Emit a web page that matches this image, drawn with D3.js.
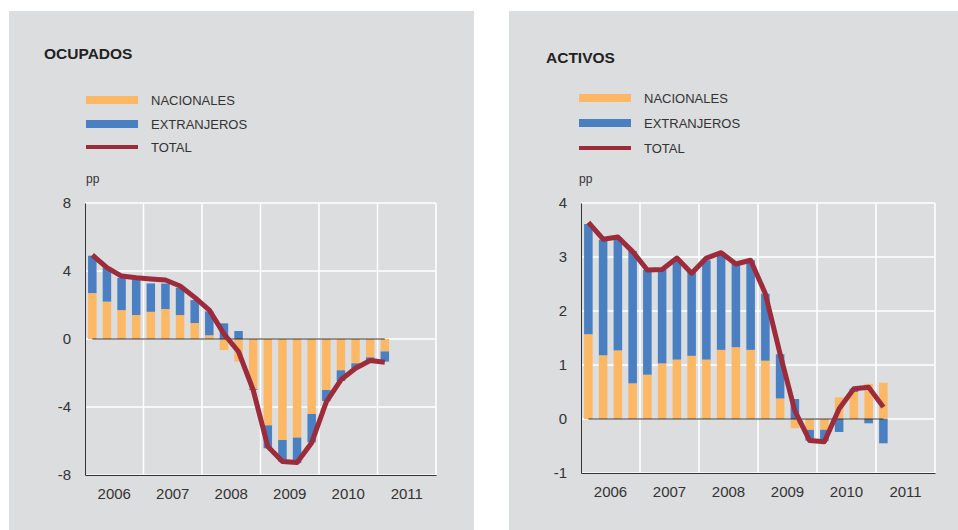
<!DOCTYPE html>
<html>
<head>
<meta charset="utf-8">
<script src="https://cdn.jsdelivr.net/npm/d3@7"></script>
<style>
  body { margin: 0; background: #fff; }
  svg { display: block; font-family: "Liberation Sans", Arial, sans-serif; }
</style>
</head>
<body>
<svg id="chart" width="958" height="530"></svg>
<script>
// Quarterly contributions (pp) - two panels, stacked bars + total line

const years = ['2006', '2007', '2008', '2009', '2010', '2011'];
const quarters = [
  '2006T1', '2006T2', '2006T3', '2006T4',
  '2007T1', '2007T2', '2007T3', '2007T4',
  '2008T1', '2008T2', '2008T3', '2008T4',
  '2009T1', '2009T2', '2009T3', '2009T4',
  '2010T1', '2010T2', '2010T3', '2010T4',
  '2011T1', '2011T2', '2011T3', '2011T4'
];
const seriesNames = ['NACIONALES', 'EXTRANJEROS', 'TOTAL'];

const ocupadosNacionales = [2.7, 2.2, 1.7, 1.41, 1.6, 1.76, 1.41, 0.94, 0.22, -0.65, -1.33, -2.95,
  -5.08, -5.94, -5.8, -4.41, -3.0, -1.84, -1.43, -1.08, -0.73];
const ocupadosExtranjeros = [2.2, 2.0, 1.9, 2.06, 1.67, 1.5, 1.6, 1.35, 1.4, 0.92, 0.47, -0.05,
  -1.35, -1.28, -1.5, -1.67, -0.65, -0.63, -0.3, -0.2, -0.6];
const ocupadosTotal = [4.94, 4.2, 3.7, 3.6, 3.53, 3.47, 3.12, 2.45, 1.7, 0.3, -0.75, -3.0,
  -6.33, -7.2, -7.27, -6.1, -3.7, -2.4, -1.72, -1.27, -1.37];

const activosNacionales = [1.57, 1.18, 1.27, 0.66, 0.82, 1.03, 1.1, 1.17, 1.1, 1.28, 1.33, 1.28,
  1.08, 0.38, -0.17, -0.2, -0.2, 0.4, 0.5, 0.65, 0.67];
const activosExtranjeros = [2.04, 2.14, 2.08, 2.45, 1.94, 1.74, 1.86, 1.56, 1.84, 1.79, 1.54, 1.66,
  1.24, 0.82, 0.37, -0.2, -0.21, -0.24, 0.06, -0.08, -0.45];
const activosTotal = [3.64, 3.33, 3.37, 3.1, 2.76, 2.77, 2.98, 2.7, 2.98, 3.08, 2.87, 2.94,
  2.32, 1.2, 0.15, -0.4, -0.42, 0.19, 0.56, 0.59, 0.22];

const ocupadosTicks = [-8, -4, 0, 4, 8];
const activosTicks = [-1, 0, 1, 2, 3, 4];

const COLORS = { nac: '#fdb865', ext: '#4a7fc1', total: '#9c2b3b', bg: '#dcdddf', text: '#333' };

const svg = d3.select('#chart');

function drawPanel(p) {
  const g = svg.append('g');

  g.append('rect')
    .attr('x', p.bx).attr('y', 11)
    .attr('width', p.bw).attr('height', 530 - 11)
    .attr('fill', COLORS.bg);

  g.append('text')
    .attr('x', p.titleX).attr('y', p.titleY)
    .attr('font-size', 15.5).attr('font-weight', 'bold')
    .attr('fill', '#222')
    .text(p.title);

  // legend
  const leg = g.append('g');
  p.legendY.forEach((ly, i) => {
    if (i < 2) {
      leg.append('rect')
        .attr('x', p.legX).attr('y', ly - 4)
        .attr('width', 52).attr('height', 8)
        .attr('fill', i === 0 ? COLORS.nac : COLORS.ext);
    } else {
      leg.append('line')
        .attr('x1', p.legX).attr('x2', p.legX + 52)
        .attr('y1', ly).attr('y2', ly)
        .attr('stroke', COLORS.total).attr('stroke-width', 4);
    }
    leg.append('text')
      .attr('x', p.legX + 65).attr('y', ly + 4.5)
      .attr('font-size', 13).attr('fill', COLORS.text)
      .text(seriesNames[i]);
  });

  g.append('text')
    .attr('x', p.legX).attr('y', 183)
    .attr('font-size', 12).attr('fill', COLORS.text)
    .text('pp');

  const x = d3.scaleBand().domain(quarters)
    .range([p.left, p.right]).paddingInner(0.42).paddingOuter(0.21);
  const xYear = d3.scaleBand().domain(years).range([p.left, p.right]);
  const y = d3.scaleLinear().domain(p.domain).range([p.bottom, p.top]);

  // grid
  g.append('g').selectAll('line').data(p.ticks)
    .join('line')
    .attr('x1', p.left).attr('x2', p.right)
    .attr('y1', d => y(d)).attr('y2', d => y(d))
    .attr('stroke', '#fff').attr('stroke-width', 1.5);
  g.append('g').selectAll('line').data(years)
    .join('line')
    .attr('x1', d => xYear(d) + xYear.bandwidth()).attr('x2', d => xYear(d) + xYear.bandwidth())
    .attr('y1', p.top).attr('y2', p.bottom)
    .attr('stroke', '#fff').attr('stroke-width', 1.5);

  // bars
  const rows = p.nac.map((v, i) => ({ q: quarters[i], nac: v, ext: p.ext[i] }));
  const stacked = d3.stack().keys(['nac', 'ext']).offset(d3.stackOffsetDiverging)(rows);
  g.append('g').selectAll('g').data(stacked)
    .join('g')
    .attr('fill', d => COLORS[d.key])
    .selectAll('rect').data(d => d)
    .join('rect')
    .attr('x', d => x(d.data.q))
    .attr('width', x.bandwidth())
    .attr('y', d => y(Math.max(d[0], d[1])))
    .attr('height', d => Math.abs(y(d[0]) - y(d[1])));

  // zero line
  const c = q => x(q) + x.bandwidth() / 2;
  g.append('line')
    .attr('x1', c(quarters[0])).attr('x2', c(quarters[p.nac.length - 1]))
    .attr('y1', y(0)).attr('y2', y(0))
    .attr('stroke', '#333').attr('stroke-width', 1);

  // axes
  const yAxis = d3.axisLeft(y).tickValues(p.ticks).tickSize(0).tickPadding(14)
    .tickFormat(d => String(d));
  const ya = g.append('g').attr('transform', `translate(${p.left},0)`).call(yAxis);
  ya.select('.domain').attr('stroke', '#333');
  ya.selectAll('text').attr('font-size', 15).attr('fill', COLORS.text).attr('font-family', null);

  const xAxis = d3.axisBottom(xYear).tickSize(0).tickPadding(13);
  const xa = g.append('g').attr('transform', `translate(0,${p.bottom})`).call(xAxis);
  xa.select('.domain').attr('stroke', '#333');
  xa.selectAll('text').attr('font-size', 15).attr('fill', COLORS.text).attr('font-family', null);

  // total line
  const line = d3.line().x((d, i) => c(quarters[i])).y(d => y(d));
  g.append('path')
    .datum(p.total)
    .attr('d', line)
    .attr('fill', 'none')
    .attr('stroke', COLORS.total)
    .attr('stroke-width', 5)
    .attr('stroke-linejoin', 'round');
}

drawPanel({
  title: 'OCUPADOS', bx: 9, bw: 465, titleX: 44, titleY: 59,
  legX: 86, legendY: [100, 124, 147],
  left: 85, right: 436, top: 203, bottom: 475,
  domain: [-8, 8], ticks: ocupadosTicks,
  nac: ocupadosNacionales, ext: ocupadosExtranjeros, total: ocupadosTotal
});

drawPanel({
  title: 'ACTIVOS', bx: 509, bw: 449, titleX: 546, titleY: 63,
  legX: 579, legendY: [98, 123, 148],
  left: 581, right: 935, top: 203, bottom: 473,
  domain: [-1, 4], ticks: activosTicks,
  nac: activosNacionales, ext: activosExtranjeros, total: activosTotal
});
</script>
</body>
</html>
